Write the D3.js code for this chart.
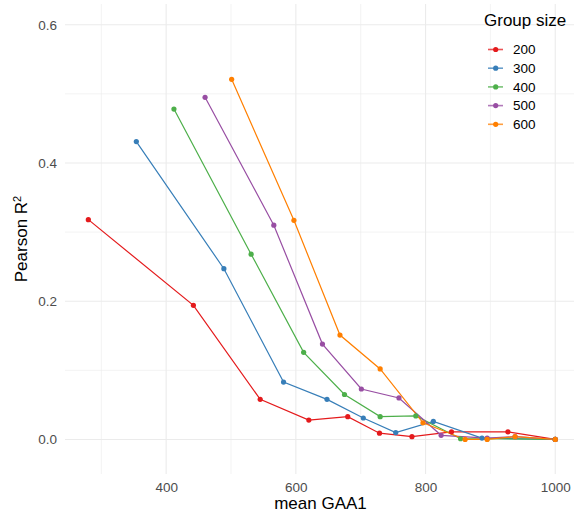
<!DOCTYPE html>
<html lang="en">
<head>
    <meta charset="UTF-8">
    <title>Pearson R2 vs mean GAA1</title>
    <style>
        body { margin: 0; background: #fff; }
        svg text { font-family: "Liberation Sans", Arial, sans-serif; }
    </style>
</head>
<body>
<div id="chart"></div>
<script src="https://cdn.jsdelivr.net/npm/d3@7"></script>
<script>
    // group sizes and colours
    var groups = ["200", "300", "400", "500", "600"];
    var colors = ["#E41A1C", "#377EB8", "#4DAF4A", "#984EA3", "#FF7F00"];

    // mean GAA1 (x) and Pearson R2 (y) per group
    var gaa200 = [280, 442, 545, 620, 680, 729, 779, 840, 927, 1000];
    var r200 = [0.318, 0.194, 0.058, 0.028, 0.033, 0.009, 0.004, 0.011, 0.011, 0.000];
    var gaa300 = [354, 489, 581, 648, 704, 754, 812, 887, 1000];
    var r300 = [0.431, 0.247, 0.083, 0.058, 0.031, 0.010, 0.026, 0.002, 0.000];
    var gaa400 = [412, 531, 612, 675, 730, 785, 854, 895, 1000];
    var r400 = [0.478, 0.268, 0.126, 0.065, 0.033, 0.034, 0.001, 0.001, 0.000];
    var gaa500 = [460, 566, 641, 701, 759, 824, 895, 938, 1000];
    var r500 = [0.495, 0.310, 0.138, 0.073, 0.060, 0.006, 0.002, 0.004, 0.000];
    var gaa600 = [501, 597, 668, 730, 796, 861, 895, 938, 1000];
    var r600 = [0.521, 0.317, 0.151, 0.102, 0.024, 0.000, 0.000, 0.004, 0.000];

    var xTicks = [400, 600, 800, 1000];
    var xMinor = [300, 500, 700, 900];
    var yTicks = [0, 0.2, 0.4, 0.6];
    var yMinor = [0.1, 0.3, 0.5];

    var xs = [gaa200, gaa300, gaa400, gaa500, gaa600];
    var ys = [r200, r300, r400, r500, r600];
    var series = groups.map(function (g, i) {
        return {
            group: g,
            color: colors[i],
            values: xs[i].map(function (x, j) { return {x: x, y: ys[i][j]}; })
        };
    });

    var width = 574, height = 517;
    var panel = {left: 65, right: 578.6, top: 4, bottom: 474};

    var x = d3.scaleLinear().domain([244, 1036]).range([panel.left, panel.right]);
    var y = d3.scaleLinear().domain([-0.05, 0.63]).range([panel.bottom, panel.top]);

    var svg = d3.select("#chart").append("svg")
        .attr("width", width)
        .attr("height", height);

    // grid lines
    var grid = svg.append("g");
    grid.selectAll("line.xminor").data(xMinor).enter().append("line")
        .attr("x1", x).attr("x2", x)
        .attr("y1", panel.top).attr("y2", panel.bottom)
        .attr("stroke", "#ebebeb").attr("stroke-width", 0.6);
    grid.selectAll("line.yminor").data(yMinor).enter().append("line")
        .attr("y1", y).attr("y2", y)
        .attr("x1", panel.left).attr("x2", panel.right)
        .attr("stroke", "#ebebeb").attr("stroke-width", 0.6);
    grid.selectAll("line.xmajor").data(xTicks).enter().append("line")
        .attr("x1", x).attr("x2", x)
        .attr("y1", panel.top).attr("y2", panel.bottom)
        .attr("stroke", "#ebebeb").attr("stroke-width", 1.1);
    grid.selectAll("line.ymajor").data(yTicks).enter().append("line")
        .attr("y1", y).attr("y2", y)
        .attr("x1", panel.left).attr("x2", panel.right)
        .attr("stroke", "#ebebeb").attr("stroke-width", 1.1);

    // axes (text only, like theme_minimal)
    var xAxis = svg.append("g")
        .attr("transform", "translate(0," + panel.bottom + ")")
        .call(d3.axisBottom(x).tickValues(xTicks).tickSize(0).tickPadding(8)
            .tickFormat(d3.format("d")));
    var yAxis = svg.append("g")
        .attr("transform", "translate(" + panel.left + ",0)")
        .call(d3.axisLeft(y).tickValues(yTicks).tickSize(0).tickPadding(8)
            .tickFormat(d3.format(".1f")));
    [xAxis, yAxis].forEach(function (a) {
        a.select(".domain").remove();
        a.selectAll("text")
            .attr("fill", "#4d4d4d")
            .style("font-size", "13.5px")
            .style("font-family", "'Liberation Sans', Arial, sans-serif");
    });

    svg.append("text")
        .attr("x", (panel.left + 570) / 2 + 3)
        .attr("y", 509)
        .attr("text-anchor", "middle")
        .style("font-size", "17px")
        .text("mean GAA1");

    var yt = svg.append("text")
        .attr("transform", "translate(27," + ((panel.top + panel.bottom) / 2) + ") rotate(-90)")
        .attr("text-anchor", "middle")
        .style("font-size", "17px");
    yt.append("tspan").text("Pearson R");
    yt.append("tspan").attr("dy", -6).style("font-size", "11px").text("2");

    // lines then points
    var line = d3.line().x(function (d) { return x(d.x); }).y(function (d) { return y(d.y); });

    svg.append("g").selectAll("path").data(series).enter().append("path")
        .attr("d", function (d) { return line(d.values); })
        .attr("fill", "none")
        .attr("stroke", function (d) { return d.color; })
        .attr("stroke-width", 1.2);

    var pts = svg.append("g").selectAll("g").data(series).enter().append("g")
        .attr("fill", function (d) { return d.color; });
    pts.selectAll("circle").data(function (d) { return d.values; }).enter().append("circle")
        .attr("cx", function (d) { return x(d.x); })
        .attr("cy", function (d) { return y(d.y); })
        .attr("r", 2.6);

    // legend
    var legend = svg.append("g").attr("transform", "translate(484,0)");
    legend.append("text")
        .attr("x", 0).attr("y", 26)
        .style("font-size", "17px")
        .text("Group size");
    var items = legend.selectAll("g.item").data(series).enter().append("g")
        .attr("transform", function (d, i) { return "translate(0," + (49.5 + i * 18.7) + ")"; });
    items.append("line")
        .attr("x1", 4).attr("x2", 19)
        .attr("stroke", function (d) { return d.color; })
        .attr("stroke-width", 1.6)
        .attr("stroke-opacity", 0.75);
    items.append("circle")
        .attr("cx", 11.7).attr("r", 2.6)
        .attr("fill", function (d) { return d.color; });
    items.append("text")
        .attr("x", 29).attr("y", 0).attr("dy", "0.35em")
        .style("font-size", "13.5px")
        .text(function (d) { return d.group; });
</script>
</body>
</html>
